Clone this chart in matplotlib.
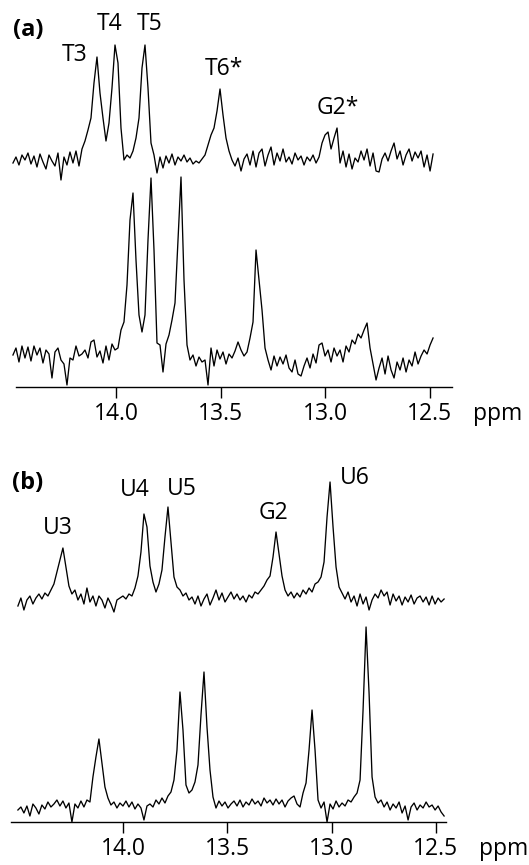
import matplotlib
matplotlib.use('Agg')
import matplotlib.pyplot as plt
import numpy as np

plt.rcParams['font.family'] = ['Open Sans', 'DejaVu Sans']

# ppm span of the recorded traces
ppm_a = (14.493, 12.483)
ppm_b = (14.504, 12.460)

# (a) intensities (arbitrary units, baseline = 0)
a_top = [0, 6, -2, 8, 3, 10, -1, 7, -4, 9, 1, -6, 8, 2, -3, 10, -17, 6, -2, 11,
         0, 12, -3, 14, 22, 33, 45, 80, 106, 70, 45, 22, 40, 75, 118, 100, 35, 3, 8, 5,
         12, 25, 45, 95, 118, 75, 20, 8, -10, 6, -5, 7, 0, 9, -2, 6, 2, 8, 1, 5,
         -1, 2, 0, 4, 8, 18, 28, 35, 52, 74, 48, 25, 12, 3, -3, 5, -8, 4, 9, -2,
         12, -4, 10, 14, -3, 8, 16, -2, 10, 2, 14, 1, 6, -1, 10, 3, 7, -2, 6, 2,
         8, 0, 6, 20, 28, 31, 14, 25, 35, 0, 12, -4, 9, -6, 5, 1, 12, 3, 14, -3,
         10, -8, -9, 4, 10, 2, 12, 20, 4, 12, -2, 8, 14, 2, 11, 5, 12, -4, 8, -8, 9]
a_bottom = [5, 12, -2, 14, 2, 13, -1, 14, 5, 12, -3, 10, 6, -18, 8, 12, 0, -4, -25, 2,
            0, 14, 4, 6, 10, 2, 18, 20, 3, 9, -3, 14, 0, 16, 10, 12, 30, 38, 75, 140,
            167, 100, 45, 28, 45, 120, 182, 110, 17, 15, -12, 16, 25, 40, 57, 120, 183, 80, 15, 0,
            5, -6, 3, -2, 0, -25, 12, -6, 10, 1, 8, -4, 6, 2, 9, 18, 10, 4, 8, 22,
            38, 110, 80, 50, 12, 0, -10, 4, -6, 3, -4, 5, -8, -12, 0, -14, -16, -6, 2, -8,
            6, -3, 15, 17, 4, 10, -2, 12, 4, 10, -2, 14, 8, 20, 16, 26, 22, 30, 37, 12,
            -4, -20, -8, 2, -14, 4, -10, -18, -2, -10, 2, -12, 0, -6, 8, -4, 4, 10, 6, 15, 22]

# (b) intensities
b_top = [-4, 4, -8, 2, 6, -2, 4, 8, 3, 9, 6, 12, 18, 30, 42, 54, 35, 16, 8, 12,
         2, 8, -2, 14, 0, 6, -4, 6, 2, -6, 4, -2, -10, 2, 4, 6, 3, 8, 6, 14,
         26, 50, 88, 75, 36, 20, 10, 18, 32, 65, 95, 60, 25, 15, 12, 6, 9, 2, 5, -2,
         6, -4, 3, 8, -3, 4, 12, 2, 9, 0, 5, 10, 3, 8, 2, 6, 0, 7, 4, 10,
         8, 12, 16, 22, 26, 45, 70, 48, 26, 12, 6, 10, 4, 9, 5, 12, 8, 14, 10, 18,
         20, 25, 40, 85, 120, 75, 35, 15, 9, 3, 10, 0, 6, -4, 8, -2, 5, -8, 2, 8,
         4, 12, 6, 10, -3, 8, 1, 6, -3, 5, 0, 7, -2, 4, 6, 0, 5, -3, 6, -2, 4, 0, 3]
b_bottom = [0, 3, -3, 4, -6, 6, 2, -4, 5, 1, 8, 3, 6, 10, 4, 9, 2, 7, -12, 6,
            2, 9, 3, 10, 8, 33, 53, 71, 47, 23, 12, 5, 8, 2, 7, 4, 9, 3, 8, 1,
            6, 2, -10, 4, 6, 3, 10, 6, 12, 7, 14, 18, 30, 60, 118, 80, 25, 17, 20, 28,
            45, 95, 138, 83, 40, 13, 2, 9, 4, 8, 2, 6, 9, 4, 10, 3, 8, 5, 11, 6,
            9, 4, 12, 7, 10, 5, 11, 6, 10, 3, 9, 12, 14, 6, 3, 17, 27, 60, 100, 60,
            10, 2, 8, -12, 6, 1, 9, 3, 7, 4, 10, 8, 13, 17, 30, 100, 183, 117, 33, 13,
            7, 10, 3, 8, 0, 6, 2, 8, -3, 4, -10, 3, 7, 0, 5, 2, 8, 3, 5, 0, 4, -2, -6]

labels_a = ['T3', 'T4', 'T5', 'T6*', 'G2*']
labels_b = ['U3', 'U4', 'U5', 'G2', 'U6']
ticks = [14.0, 13.5, 13.0, 12.5]

W, H = 529, 865


def draw_panel(ax, span, top, bottom, offsets, xlim, bounds, labels, label_pos, tag, tag_pos):
    x_top = np.linspace(span[0], span[1], len(top))
    x_bot = np.linspace(span[0], span[1], len(bottom))
    ax.plot(x_top, np.array(top) + offsets[0], color='black', lw=0.95)
    ax.plot(x_bot, np.array(bottom) + offsets[1], color='black', lw=0.95)
    for lab, (px, py) in zip(labels, label_pos):
        ax.text(px, py, lab, ha='center', va='center', fontsize=16.5)
    ax.text(tag_pos[0], tag_pos[1], tag, ha='center', va='center',
            fontsize=17, fontweight='bold')
    ax.set_xlim(xlim)
    ax.set_ylim(0, 382)
    for s in ['top', 'right', 'left']:
        ax.spines[s].set_visible(False)
    ax.spines['bottom'].set_bounds(bounds[0], bounds[1])
    ax.spines['bottom'].set_linewidth(1.0)
    ax.set_yticks([])
    ax.set_xticks(ticks)
    ax.set_xticklabels(['%.1f' % t for t in ticks])
    ax.tick_params(axis='x', direction='out', length=8, width=1.0,
                   labelsize=16.5, pad=2.5)
    ax.patch.set_alpha(0)


fig = plt.figure(figsize=(W / 100, H / 100), dpi=100)

ax_a = fig.add_axes([10 / W, 1 - 387 / H, 450 / W, 382 / H])
draw_panel(ax_a, ppm_a, a_top, a_bottom, (224, 27), (14.5072, 12.3541), (14.478, 12.392),
           labels_a,
           [(14.196, 332), (14.033, 363), (13.837, 363), (13.483, 318), (12.938, 279)],
           '(a)', (14.421, 357))
fig.text(473 / W, 1 - 420 / H, 'ppm', ha='left', va='baseline', fontsize=16.5)

ax_b = fig.add_axes([5 / W, 1 - 822 / H, 450 / W, 382 / H])
draw_panel(ax_b, ppm_b, b_top, b_bottom, (220, 12), (14.5659, 12.4077), (14.537, 12.45),
           labels_b,
           [(14.312, 294), (13.942, 332), (13.717, 333), (13.276, 309), (12.887, 344)],
           '(b)', (14.456, 339))
fig.text(479 / W, 1 - 855 / H, 'ppm', ha='left', va='baseline', fontsize=16.5)

fig.savefig('out.png', dpi=100)
